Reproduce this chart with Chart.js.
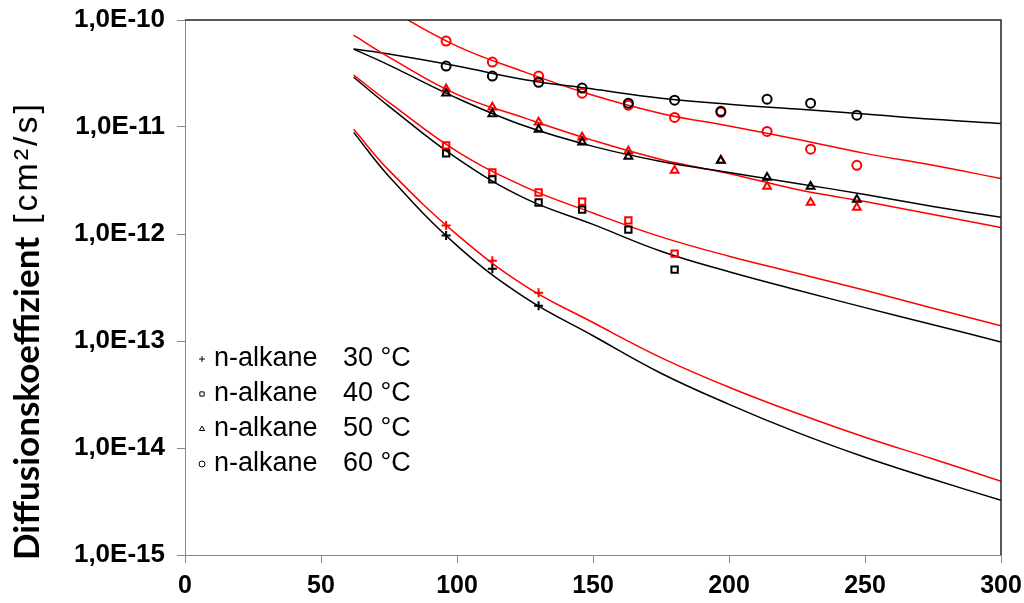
<!DOCTYPE html>
<html>
<head>
<meta charset="utf-8">
<title>Diffusionskoeffizient n-Alkane</title>
<script src="https://cdn.jsdelivr.net/npm/chart.js@4/dist/chart.umd.min.js"></script>
<style>
  html, body { margin: 0; padding: 0; background: #fff; }
  #wrap { width: 1024px; height: 603px; position: relative; }
</style>
</head>
<body>
<div id="wrap"><canvas id="chart"></canvas></div>
<script>
// Fitted curves, sampled at these x positions
const curveX = [62, 75, 100, 125, 150, 175, 200, 225, 250, 275, 300];
const fit30Black = [8.91e-12, 3.45e-12, 7.78e-13, 2.54e-13, 1.12e-13, 5.0e-14, 2.56e-14, 1.40e-14, 8.2e-15, 5.1e-15, 3.24e-15];
const fit30Red   = [9.51e-12, 3.93e-12, 9.87e-13, 3.28e-13, 1.49e-13, 7.0e-14, 3.70e-14, 2.11e-14, 1.26e-14, 7.9e-15, 4.89e-15];
const fit40Black = [2.92e-11, 1.56e-11, 5.09e-12, 2.15e-12, 1.23e-12, 6.9e-13, 4.44e-13, 3.0e-13, 2.05e-13, 1.42e-13, 9.8e-14];
const fit40Red   = [3.05e-11, 1.70e-11, 5.92e-12, 2.76e-12, 1.57e-12, 9.4e-13, 6.2e-13, 4.3e-13, 2.98e-13, 2.02e-13, 1.39e-13];
const fit50Black = [5.35e-11, 3.79e-11, 1.86e-11, 1.02e-11, 6.59e-12, 4.77e-12, 3.76e-12, 2.97e-12, 2.34e-12, 1.81e-12, 1.43e-12];
const fit50Red   = [7.23e-11, 4.50e-11, 2.02e-11, 1.21e-11, 7.50e-12, 4.98e-12, 3.68e-12, 2.61e-12, 2.01e-12, 1.52e-12, 1.15e-12];
const fit60Black = [5.35e-11, 4.80e-11, 3.71e-11, 2.77e-11, 2.26e-11, 1.86e-11, 1.63e-11, 1.47e-11, 1.32e-11, 1.18e-11, 1.08e-11];
const fit60Red   = [2.08e-10, 1.27e-10, 5.70e-11, 3.26e-11, 1.98e-11, 1.34e-11, 1.02e-11, 7.67e-12, 5.67e-12, 4.38e-12, 3.30e-12];

// Measured points
const pointX = [96, 113, 130, 146, 163, 180, 197, 214, 230, 247];
const meas30Black = [9.66e-13, 4.74e-13, 2.13e-13];
const meas30Red   = [1.20e-12, 5.63e-13, 2.83e-13];
const meas40Black = [5.67e-12, 3.24e-12, 1.97e-12, 1.69e-12, 1.10e-12, 4.64e-13];
const meas40Red   = [6.73e-12, 3.76e-12, 2.44e-12, 2.01e-12, 1.34e-12, 6.55e-13];
const meas50Black = [2.07e-11, 1.32e-11, 9.5e-12, 7.2e-12, 5.3e-12, null, 4.87e-12, 3.38e-12, 2.78e-12, 2.10e-12];
const meas50Red   = [2.26e-11, 1.53e-11, 1.11e-11, 8.0e-12, 5.92e-12, 3.93e-12, 4.87e-12, 2.78e-12, 1.97e-12, 1.77e-12];
const meas60Black = [3.71e-11, 2.99e-11, 2.62e-11, 2.31e-11, 1.67e-11, 1.78e-11, 1.40e-11, 1.82e-11, 1.67e-11, 1.29e-11];
const meas60Red   = [6.36e-11, 4.04e-11, 2.99e-11, 2.07e-11, 1.60e-11, 1.23e-11, 1.37e-11, 9.1e-12, 6.2e-12, 4.38e-12];

const yTickValues = [1e-15, 1e-14, 1e-13, 1e-12, 1e-11, 1e-10];
const yTickLabels = ['1,0E-15', '1,0E-14', '1,0E-13', '1,0E-12', '1,0E-11', '1,0E-10'];

const legendNames = ['n-alkane', 'n-alkane', 'n-alkane', 'n-alkane'];
const legendTemps = ['30 °C', '40 °C', '50 °C', '60 °C'];
const legendStyles = ['cross', 'rect', 'triangle', 'circle'];

const RED = '#ff0000';
const BLACK = '#000000';

function toPoints(xs, ys) {
  return ys.map((y, i) => ({ x: xs[i], y })).filter(p => p.y !== null);
}

function curve(ys, color) {
  return {
    data: toPoints(curveX, ys),
    showLine: true,
    borderColor: color,
    borderWidth: 1.5,
    pointRadius: 0,
    tension: 0.4,
    order: 3,
  };
}

function markers(ys, color, style) {
  return {
    data: toPoints(pointX, ys),
    showLine: false,
    pointStyle: style,
    pointRadius: 4.5,
    pointBorderWidth: 2,
    borderColor: color,
    backgroundColor: 'rgba(255,255,255,0)',
    order: color === BLACK ? 1 : 2,
  };
}

// frame: dark top/right border
const framePlugin = {
  id: 'frame',
  afterDatasetsDraw(chart) {
    const { ctx, chartArea: a } = chart;
    ctx.save();
    ctx.strokeStyle = '#222';
    ctx.lineWidth = 1.5;
    ctx.beginPath();
    ctx.moveTo(a.left, a.top);
    ctx.lineTo(a.right, a.top);
    ctx.lineTo(a.right, a.bottom);
    ctx.stroke();
    ctx.restore();
  },
};

// y title with bold + normal parts
const yTitlePlugin = {
  id: 'yTitle',
  afterDraw(chart) {
    const ctx = chart.ctx;
    ctx.save();
    ctx.translate(28, 560);
    ctx.rotate(-Math.PI / 2);
    ctx.fillStyle = '#000';
    ctx.textBaseline = 'middle';
    ctx.textAlign = 'left';
    ctx.font = 'bold 30px Lato';
    const w = ctx.measureText('Diffusionskoeffizient').width;
    const size = Math.round(30 * 326 / w);
    ctx.font = `bold ${size}px Lato`;
    ctx.fillText('Diffusionskoeffizient', 0, 0);
    ctx.font = '34px "Liberation Sans", Arial';
    ctx.letterSpacing = '3px';
    ctx.fillText('[cm²/s]', 336, 0);
    ctx.restore();
  },
};

// legend in lower-left of plot area
const legendPlugin = {
  id: 'customLegend',
  afterDraw(chart) {
    const ctx = chart.ctx;
    ctx.save();
    ctx.font = '27px "Liberation Sans", Arial';
    ctx.textBaseline = 'middle';
    ctx.textAlign = 'left';
    legendNames.forEach((name, i) => {
      const y = 359 + i * 35;
      ctx.strokeStyle = '#000';
      ctx.fillStyle = '#fff';
      Chart.helpers.drawPoint(ctx, { pointStyle: legendStyles[i], radius: 3, borderWidth: 1.3, rotation: 0 }, 202, y);
      ctx.fillStyle = '#000';
      ctx.fillText(name, 214, y);
      ctx.fillText(legendTemps[i], 343, y);
    });
    ctx.restore();
  },
};

new Chart(document.getElementById('chart'), {
  type: 'scatter',
  data: {
    datasets: [
      curve(fit30Black, BLACK), curve(fit30Red, RED),
      curve(fit40Black, BLACK), curve(fit40Red, RED),
      curve(fit50Black, BLACK), curve(fit50Red, RED),
      curve(fit60Black, BLACK), curve(fit60Red, RED),
      markers(meas30Red, RED, 'cross'), markers(meas30Black, BLACK, 'cross'),
      markers(meas40Red, RED, 'rect'), markers(meas40Black, BLACK, 'rect'),
      markers(meas50Red, RED, 'triangle'), markers(meas50Black, BLACK, 'triangle'),
      markers(meas60Red, RED, 'circle'), markers(meas60Black, BLACK, 'circle'),
    ],
  },
  options: {
    responsive: true,
    maintainAspectRatio: false,
    animation: false,
    layout: { padding: { top: 20, right: 23, left: 0, bottom: 0 } },
    plugins: { legend: { display: false }, tooltip: { enabled: false } },
    scales: {
      x: {
        type: 'linear',
        min: 0,
        max: 300,
        ticks: {
          stepSize: 50,
          color: '#000',
          padding: 8,
          maxRotation: 0,
          font: { family: '"Liberation Sans", Arial', weight: 'bold', size: 25 },
        },
        grid: { drawOnChartArea: false, drawTicks: true, tickLength: 8, color: '#888' },
        border: { color: '#888', width: 1 },
        afterFit(scale) {
          scale.height = 48;
          scale.paddingLeft = 0;
          scale.paddingRight = 0;
        },
      },
      y: {
        type: 'logarithmic',
        min: 1e-15,
        max: 1e-10,
        afterBuildTicks(scale) { scale.ticks = yTickValues.map(v => ({ value: v })); },
        ticks: {
          color: '#000',
          padding: 12,
          callback: (v, i) => yTickLabels[i],
          font: { family: '"Liberation Sans", Arial', weight: 'bold', size: 26 },
        },
        grid: { drawOnChartArea: false, drawTicks: true, tickLength: 8, color: '#888' },
        border: { color: '#888', width: 1 },
        afterFit(scale) {
          scale.width = 185;
          scale.paddingTop = 0;
          scale.paddingBottom = 0;
        },
      },
    },
  },
  plugins: [framePlugin, yTitlePlugin, legendPlugin],
});
</script>
</body>
</html>
